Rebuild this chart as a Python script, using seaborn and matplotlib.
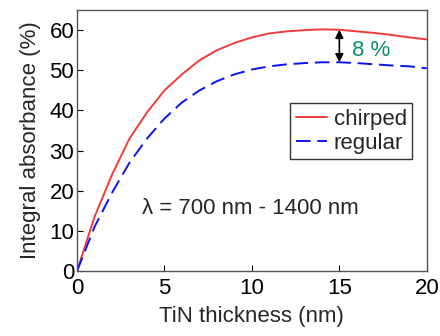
import matplotlib
matplotlib.use('Agg')
import matplotlib.pyplot as plt
import pandas as pd
import seaborn as sns

sns.set_style('white')
plt.rcParams['font.family'] = ['Liberation Sans', 'DejaVu Sans']

thickness = list(range(0, 21))
chirped = [0, 13.5, 24, 33, 39.5, 45, 49, 52.5, 55, 56.8, 58.2, 59.2, 59.7, 60.0, 60.2, 60.1,
           59.7, 59.3, 58.8, 58.2, 57.7]
regular = [0, 11, 19.5, 27, 33, 38, 42, 45, 47.3, 49, 50.2, 51, 51.5, 51.8, 52, 52,
           51.8, 51.5, 51.2, 51, 50.5]

df = pd.DataFrame({'TiN thickness (nm)': thickness, 'chirped': chirped, 'regular': regular})
long = df.melt(id_vars='TiN thickness (nm)', var_name='design', value_name='absorbance')

fig = plt.figure(figsize=(4.4, 3.36), dpi=100)
ax = fig.add_axes([0.175, 0.193, 0.795, 0.777])

sns.lineplot(data=long, x='TiN thickness (nm)', y='absorbance', hue='design', style='design',
             palette={'chirped': '#f03c3c', 'regular': '#0a14f0'},
             dashes={'chirped': '', 'regular': (7.5, 3.5)}, linewidth=1.4, ax=ax)

ax.set_xlim(0, 20)
ax.set_ylim(0, 65)
ax.set_xticks([0, 5, 10, 15, 20])
ax.set_yticks([0, 10, 20, 30, 40, 50, 60])
ax.tick_params(direction='in', length=4, labelsize=16, colors='black',
               left=True, bottom=True)
ax.tick_params(axis='x', pad=5)
ax.tick_params(axis='y', pad=2)
for s in ax.spines.values():
    s.set_color('#555555')
    s.set_linewidth(1)
ax.set_xlabel('TiN thickness (nm)', fontsize=16, labelpad=5)
ax.set_ylabel('Integral absorbance (%)', fontsize=16, labelpad=6)

# 8 % gap between the two curves at 15 nm
ax.annotate('', xy=(15, 60.1), xytext=(15, 52.0),
            arrowprops=dict(arrowstyle='<|-|>', color='black', lw=1.2,
                            mutation_scale=12, shrinkA=0, shrinkB=0))
ax.text(15.7, 55, '8 %', color='#0a9060', fontsize=16, va='center', ha='left')

ax.text(9.9, 15.5, 'λ = 700 nm - 1400 nm', fontsize=16, ha='center', va='center')

leg = ax.legend(loc='upper left', bbox_to_anchor=(0.61, 0.644), fontsize=16,
                frameon=True, fancybox=False, handlelength=1.4, handletextpad=0.3,
                borderpad=0.25, labelspacing=0.15, borderaxespad=0)
leg.get_frame().set_edgecolor('black')
leg.get_frame().set_linewidth(1)

fig.savefig('out.png', dpi=100)
